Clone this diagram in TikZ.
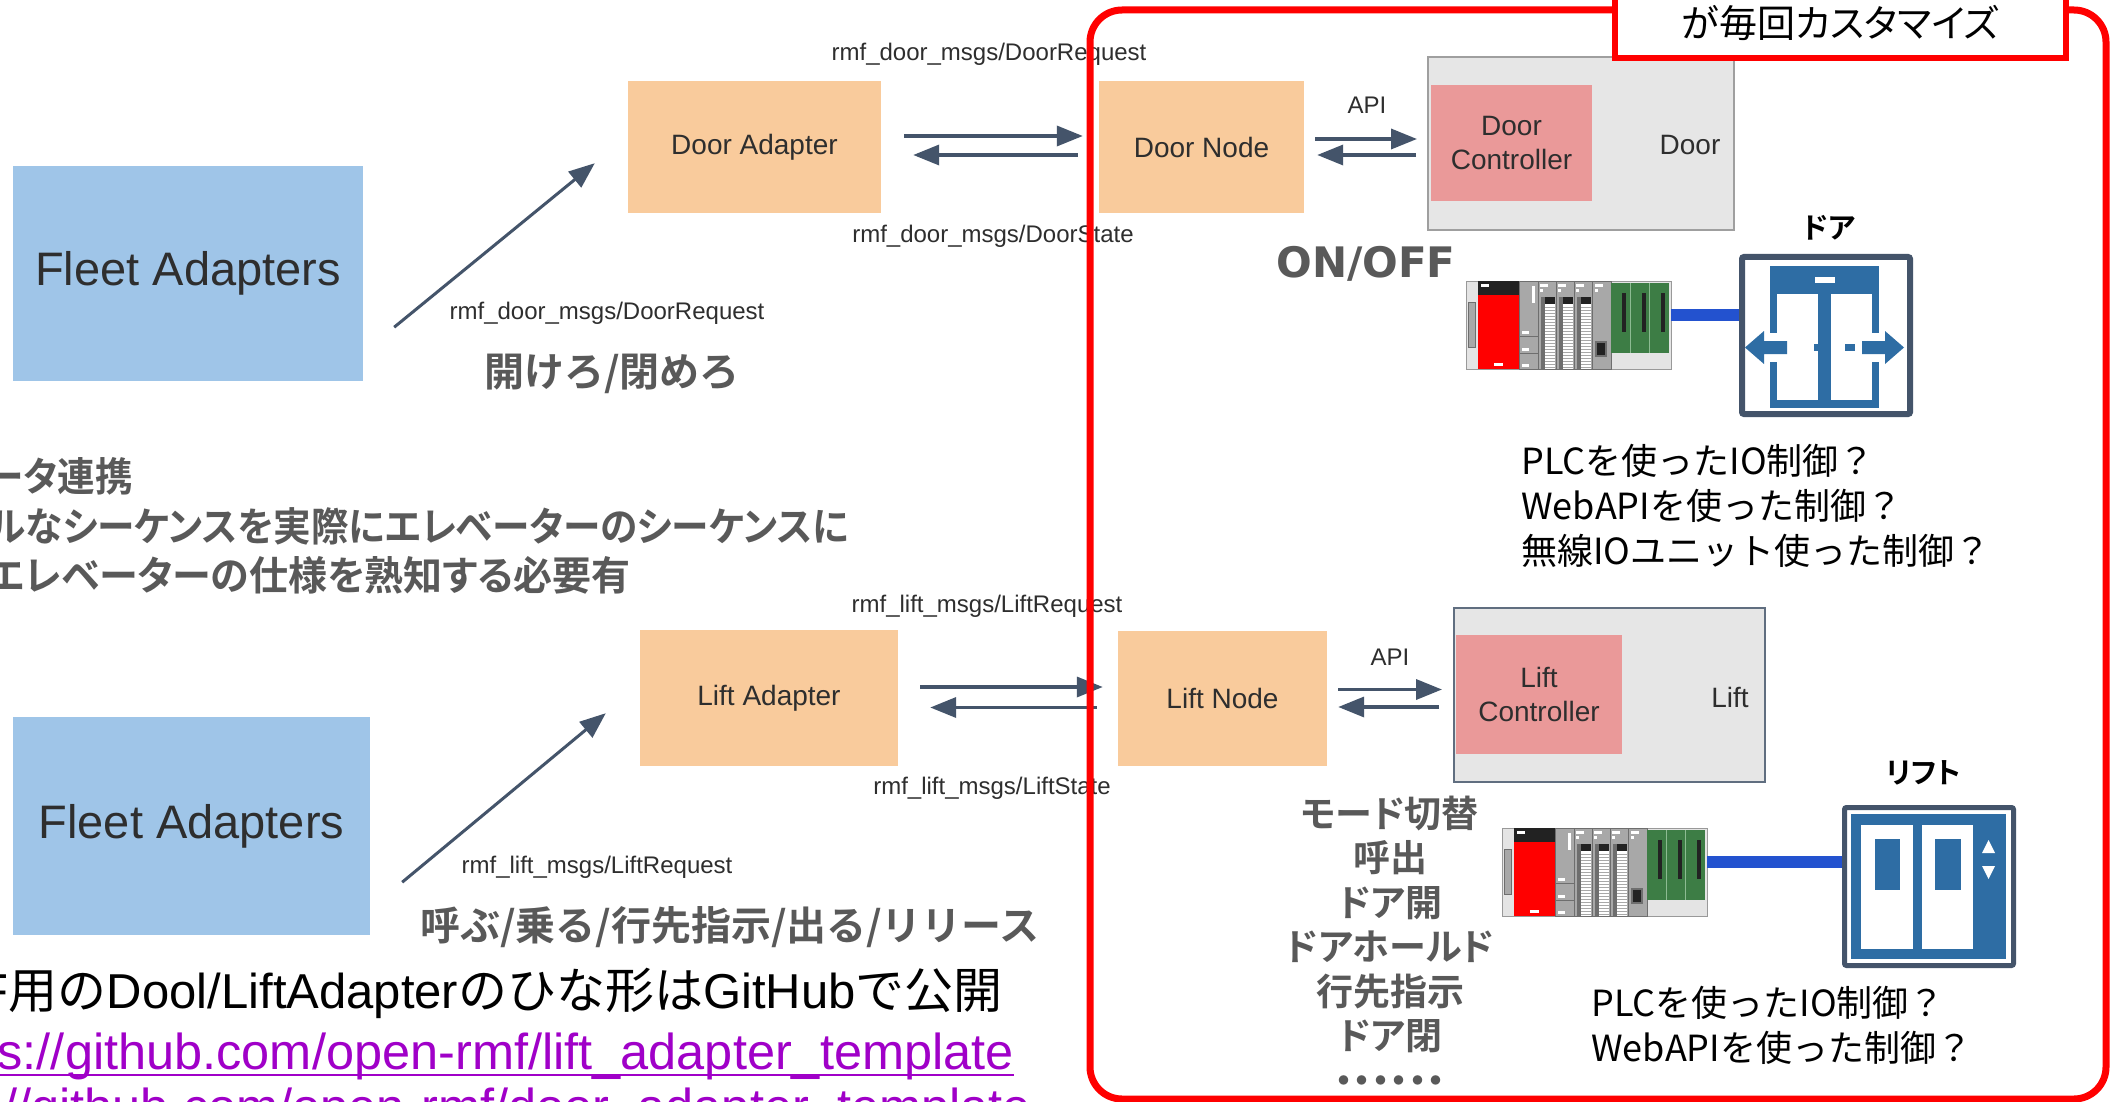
\documentclass[tikz,border=0pt]{standalone}
\usepackage{fontspec}
\setmainfont{Liberation Sans}
\newfontfamily\jp{Noto Sans CJK JP}[BoldFont={Noto Sans CJK JP Bold}]
\newfontfamily\jpp{Noto Sans CJK JP}[BoldFont={Noto Sans CJK JP Bold},RawFeature=+palt]
\newfontfamily\jpn{Noto Sans CJK JP}[BoldFont={Noto Sans CJK JP Bold},RawFeature=+palt,FakeStretch=0.94]
\newfontfamily\jpm{Noto Sans CJK JP}[BoldFont={Noto Sans CJK JP Bold},RawFeature=+palt,FakeStretch=0.975]
\newfontfamily\dvs{DejaVu Sans}
\usetikzlibrary{arrows.meta,calc}
\newcommand\pxs[2]{\fontsize{#1}{#2}\selectfont}

\definecolor{fleetblue}{HTML}{9FC5E8}
\definecolor{adapterorange}{HTML}{F9CB9C}
\definecolor{ctrlpink}{HTML}{EA9999}
\definecolor{devgray}{HTML}{E6E6E6}
\definecolor{arrowc}{HTML}{44546A}
\definecolor{labelc}{HTML}{2E2E2E}
\definecolor{boldgray}{HTML}{595959}
\definecolor{alertred}{HTML}{FF0000}
\definecolor{linkpurple}{HTML}{A000C8}
\definecolor{wireblue}{HTML}{2352CF}
\definecolor{iconblue}{HTML}{2E6DA4}
\definecolor{framec}{HTML}{44546A}
\definecolor{plclight}{HTML}{E4E4E4}
\definecolor{plcmid}{HTML}{A8A8A8}
\definecolor{plcdark}{HTML}{6E6E6E}
\definecolor{plcblack}{HTML}{222222}
\definecolor{plcred}{HTML}{FF0000}
\definecolor{plcgreen}{HTML}{3D7D45}
\definecolor{plcgreenlight}{HTML}{8DBB92}

\tikzset{
  plc/.pic={
    % chassis
    \filldraw[fill=plclight, draw=plcdark!70, line width=1] (0,0) rectangle (205,88);
    % power supply slot
    \filldraw[fill=plcmid, draw=plcdark, line width=0.8] (2.5,21) rectangle (9,66);
    % CPU unit
    \fill[plcblack] (12,0) rectangle (53,14);
    \fill[plcred] (12,14) rectangle (53,88);
    \fill[white] (15,3) rectangle (23,6);
    \fill[white] (28,82) rectangle (37,85);
    % auxiliary unit
    \filldraw[fill=plcmid, draw=plcdark, line width=0.6] (53,0) rectangle (72,88);
    \fill[white] (66,5) rectangle (68.5,22);
    \draw[plcdark, line width=0.6] (53,55) -- (72,55) (53,72) -- (72,72);
    \foreach \yy in {50,67,83} \fill[white] (56,\yy) rectangle (63,\yy+3);
    % I/O units with terminal blocks
    \foreach \xx in {72,90,108} {
      \filldraw[fill=plcmid, draw=plcdark, line width=0.6] (\xx,0) rectangle (\xx+18,88);
      \fill[white] (\xx+2,3) rectangle (\xx+10,5.5);
      \fill[white] (\xx+2,8) rectangle (\xx+5,10.5);
      \fill[plcdark] (\xx+2.5,16) rectangle (\xx+7,88);
      \fill[plcblack] (\xx+7,16) rectangle (\xx+17,23);
      \fill[white] (\xx+7,23) rectangle (\xx+17,88);
      \foreach \yy in {26,29,...,86} \draw[plcmid, line width=0.5] (\xx+7,\yy) -- (\xx+17,\yy);
    }
    % communication unit
    \filldraw[fill=plcmid, draw=plcdark, line width=0.6] (126,0) rectangle (145,88);
    \fill[white] (129,3) rectangle (137,5.5);
    \fill[white] (129,8) rectangle (132,10.5);
    \filldraw[fill=plcblack, draw=plcdark, line width=1.5] (130,61) rectangle (140,75);
    % base unit
    \fill[plcgreen] (145,2) rectangle (203,72);
    \draw[plcgreenlight, line width=0.8] (164,2) -- (164,72) (183,2) -- (183,72);
    \foreach \xx in {156,176,195} \fill[plcblack] (\xx,12) rectangle (\xx+4,51);
    \coordinate (-out) at (205,34);
  }
}

\begin{document}
\begin{tikzpicture}[x=1pt,y=-1pt,
  box/.style={rectangle, inner sep=0, draw=none},
  fleet/.style={box, fill=fleetblue, text=labelc, font=\pxs{47}{47}},
  adapter/.style={box, fill=adapterorange, text=labelc, font=\pxs{28}{28}},
  device/.style={box, fill=devgray, line width=2},
  ctrl/.style={box, fill=ctrlpink, text=labelc, align=center, font=\pxs{28}{34}},
  msg/.style={inner sep=0, text=labelc, font=\pxs{24}{24}},
  flow/.style={draw=arrowc, line width=3.5, -{Triangle[length=26,width=20]}},
  action/.style={inner sep=0, text=boldgray, font=\jp\bfseries\pxs{40}{40}},
  note/.style={inner sep=0, text=boldgray, font=\jpn\bfseries\pxs{40}{40}},
  devname/.style={inner sep=0, text=black, font=\jpp\bfseries\pxs{29}{29}},
  method/.style={inner sep=0, text=black, align=left, font=\jp\pxs{36}{45}},
  wire/.style={draw=wireblue, line width=12},
  iconframe/.style={rectangle, inner sep=0, draw=framec, fill=white, rounded corners=2},
  link/.style={inner sep=0, text=linkpurple, font=\pxs{50.5}{50.5}},
  redframe/.style={draw=alertred, line width=7}
]
\path[use as bounding box] (0,0) rectangle (2110,1102);
\clip (0,0) rectangle (2110,1102);
\fill[white] (0,0) rectangle (2110,1102);

% ---------- notes on the left ----------
\node[note, anchor=east] (n1) at (133,476) {ータ連携};
\node[note, anchor=east] (n2) at (849,526) {ルなシーケンスを実際にエレベーターのシーケンスに};
\node[note, font=\jpm\bfseries\pxs{40}{40}, anchor=east] (n3) at (631,575) {エレベーターの仕様を熟知する必要有};

\node[inner sep=0, anchor=base east, text=black, font=\pxs{49}{49}] (tmpl) at (1003,1008)
  {F{\jp 用の}Dool/LiftAdapter{\jp のひな形は}GitHub{\jp で公開}};
\node[link, anchor=base east] (url1) at (1014,1069) {s://github.com/open-rmf/lift\_adapter\_template};
\node[link, anchor=base east] (url2) at (1031,1124) {//github.com/open-rmf/door\_adapter\_template};
\draw[linkpurple, line width=2.5] ([yshift=-6pt]url1.base west) -- ([yshift=-6pt]url1.base east);

% ---------- door chain ----------
\node[fleet, minimum width=350, minimum height=215] (fa1) at (188,273.5) {Fleet Adapters};
\node[adapter, minimum width=253, minimum height=132] (da) at (754.5,147) {Door Adapter};
\node[adapter, minimum width=205, minimum height=132] (dn) at (1201.5,147) {Door Node};
\node[device, draw=gray!75, minimum width=306, minimum height=173] (dbox) at (1581,143.5) {};
\node[ctrl, minimum width=161, minimum height=116] (dctrl) at (1511.5,143) {Door\\Controller};
\node[msg, font=\pxs{28}{28}] (dlabel) at (1690,145) {Door};

\coordinate (d1s) at ($(fa1.south east)+(31,-54)$);
\coordinate (d1e) at ($(da.south west)+(-33,-50)$);
\draw[flow, line width=3] (d1s) -- (d1e);

\coordinate (dreq) at ([yshift=11pt]da.east);
\coordinate (dsta) at ([yshift=-8pt]dn.west);
\draw[flow, shorten <=23, shorten >=16] (dreq) -- (dreq -| dn.west);
\draw[flow, shorten <=21, shorten >=32] (dsta) -- (dsta -| da.east);

\coordinate (dapi1) at ([yshift=8pt]dn.east);
\coordinate (dapi2) at ([yshift=-8pt]dn.east);
\draw[flow, shorten <=11, shorten >=10] (dapi1) -- (dapi1 -| dbox.west);
\draw[flow, shorten <=11, shorten >=13] (dapi2 -| dbox.west) -- (dapi2);

\node[msg] (mdr1) at (989,54) {rmf\_door\_msgs/DoorRequest};
\node[msg] (mds) at (993,236) {rmf\_door\_msgs/DoorState};
\node[msg] (mdr2) at (607,313) {rmf\_door\_msgs/DoorRequest};
\node[msg] (dapi) at (1367,105) {API};
\node[action] (dact) at (612,374) {開けろ/閉めろ};

% ---------- lift chain ----------
\node[fleet, minimum width=357, minimum height=218] (fa2) at (191.5,826) {Fleet Adapters};
\node[adapter, minimum width=258, minimum height=136] (la) at (769,698) {Lift Adapter};
\node[adapter, minimum width=209, minimum height=135] (ln) at (1222.5,698.5) {Lift Node};
\node[device, draw=framec!85, minimum width=311, minimum height=174] (lbox) at (1609.5,695) {};
\node[ctrl, minimum width=166, minimum height=119] (lctrl) at (1539,694.5) {Lift\\Controller};
\node[msg, font=\pxs{28}{28}] (llabel) at (1730,697) {Lift};

\coordinate (l1s) at ($(fa2.south east)+(32,-53)$);
\coordinate (l1e) at ($(la.south west)+(-34,-53)$);
\draw[flow, line width=3] (l1s) -- (l1e);

\coordinate (lreq) at ([yshift=11pt]la.east);
\coordinate (lsta) at ([yshift=-9pt]ln.west);
\draw[flow, shorten <=22, shorten >=15] (lreq) -- (lreq -| ln.west);
\draw[flow, shorten <=21, shorten >=32] (lsta) -- (lsta -| la.east);

\coordinate (lapi1) at ([yshift=9pt]ln.east);
\coordinate (lapi2) at ([yshift=-8.5pt]ln.east);
\draw[flow, shorten <=11, shorten >=11] (lapi1) -- (lapi1 -| lbox.west);
\draw[flow, shorten <=14, shorten >=11] (lapi2 -| lbox.west) -- (lapi2);

\node[msg] (mlr1) at (987,606) {rmf\_lift\_msgs/LiftRequest};
\node[msg] (mls) at (992,788) {rmf\_lift\_msgs/LiftState};
\node[msg] (mlr2) at (597,867) {rmf\_lift\_msgs/LiftRequest};
\node[msg] (lapi) at (1390,657) {API};
\node[action] (lact) at (730,927) {呼ぶ/乗る/行先指示/出る/リリース};

% ---------- door hardware ----------
\node[inner sep=0, text=boldgray, font=\dvs\bfseries\pxs{42}{42}] (onoff) at (1366,264) {ON/OFF};
\pic (dplc) at (1466,281) {plc};
\node[iconframe, line width=6, minimum width=168, minimum height=157] (dicon) at (1826,335.5) {};
\fill[iconblue] (1770,266) rectangle (1879,408);
\fill[white] (1777,294) rectangle (1818,400);
\fill[white] (1831,294) rectangle (1872,400);
\fill[white] (1815,277) rectangle (1835,283);
\fill[iconblue] (1814,344) rectangle (1824,351);
\fill[iconblue] (1845,344) rectangle (1855,351);
\fill[white] (1766,333) rectangle (1779,362);
\fill[white] (1870,333) rectangle (1883,362);
\fill[iconblue] (1745,347.5) -- (1764,331) -- (1764,341) -- (1787,341) -- (1787,354) -- (1764,354) -- (1764,364) -- cycle;
\fill[iconblue] (1904,347.5) -- (1885,331) -- (1885,341) -- (1862,341) -- (1862,354) -- (1885,354) -- (1885,364) -- cycle;
\draw[wire] (dplc-out) -- (dplc-out -| dicon.west);
\node[devname] (dname) at (1829,228) {ドア};
\node[method, anchor=west] (dmeth) at (1521,506) {PLCを使ったIO制御？\\WebAPIを使った制御？\\無線IOユニット使った制御？};

% ---------- lift hardware ----------
\node[inner sep=0, text=boldgray, align=center, font=\jpp\bfseries\pxs{37}{44.5}] (steps) at (1390,945)
  {モード切替\\呼出\\ドア開\\ドアホールド\\行先指示\\ドア閉\\・・・・・・};
\pic (lplc) at (1502,828) {plc};
\node[iconframe, line width=5, minimum width=169, minimum height=158] (licon) at (1929,886.5) {};
\fill[iconblue] (1851,814) rectangle (2006,959);
\fill[white] (1861,825) rectangle (1913,949);
\fill[white] (1922,825) rectangle (1973,949);
\fill[iconblue] (1875,839) rectangle (1900,890);
\fill[iconblue] (1935,839) rectangle (1961,890);
\fill[white] (1982,853) -- (1995,853) -- (1988.5,840) -- cycle;
\fill[white] (1982,866) -- (1995,866) -- (1988.5,879) -- cycle;
\draw[wire] (lplc-out) -- (lplc-out -| licon.west);
\node[devname] (lname) at (1924,773) {リフト};
\node[method, anchor=west] (lmeth) at (1591,1025.5) {PLCを使ったIO制御？\\WebAPIを使った制御？};

% ---------- customised area ----------
\draw[redframe, rounded corners=32] (1090,10) rectangle (2106,1099);
\node[rectangle, draw=alertred, line width=6, fill=white, inner sep=0,
      minimum width=451, minimum height=70, text=black, font=\jpp\pxs{38}{38}] (title) at (1840.5,23)
  {が毎回カスタマイズ};
\end{tikzpicture}
\end{document}
